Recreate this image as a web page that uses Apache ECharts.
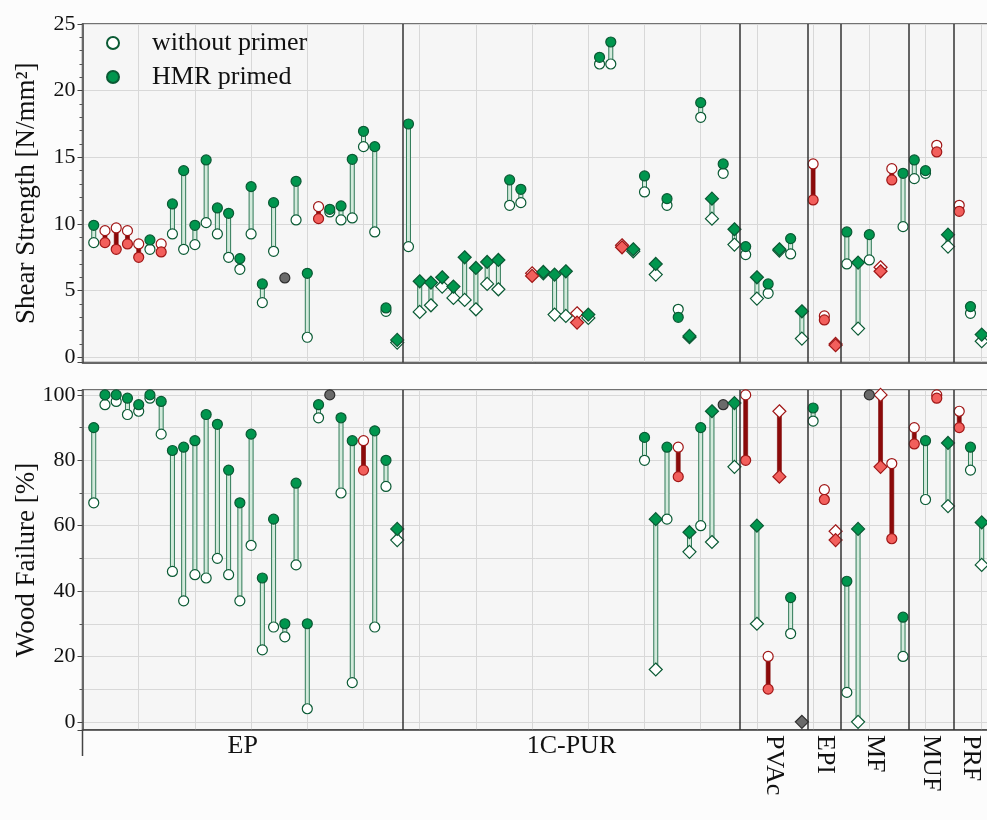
<!DOCTYPE html>
<html><head><meta charset="utf-8">
<script src="https://cdn.jsdelivr.net/npm/echarts@6/dist/echarts.min.js"></script>
<style>html,body{margin:0;padding:0;background:#fcfcfc}#c{width:987px;height:820px}</style>
</head><body><div id="c"></div>
<script>
// ---------- data ----------
const groupNames = ['EP','1C-PUR','PVAc','EPI','MF','MUF','PRF'];
const groupSizes = [28,30,6,3,6,4,3];
// c = circle, d = diamond (per specimen position 1..80)
const shapes = ['c','c','c','c','c','c','c','c','c','c','c','c','c','c','c','c','c','c','c','c','c','c','c','c','c','c','c','d',
  'c','d','d','d','d','d','d','d','d','c','c','d','d','d','d','d','d','c','c','d','d','c','d','c','c','d','c','d','c','d',
  'c','d','c','d','c','d',
  'c','c','d',
  'c','d','c','d','c','c',
  'c','c','c','d',
  'c','c','d'];
const ssTicks = [0,5,10,15,20,25];
const wfTicks = [0,20,40,60,80,100];
// Shear strength [N/mm²]
const ssWithout = [8.6,9.5,9.7,9.5,8.5,8.1,8.5,9.25,8.1,8.45, 10.1,9.25,7.5,6.6,9.25,4.1,7.95,5.95,10.3,1.5,
  11.3,10.9,10.3,10.45,15.8,9.4,3.45,1.1,8.3,3.4, 3.9,5.3,4.45,4.3,3.6,5.5,5.1,11.4,11.6,6.3,
  6.3,3.2,3.1,3.3,2.95,22.0,22.0,8.4,7.95,12.4, 6.2,11.4,3.6,1.5,18.0,10.4,13.8,8.45,7.7,4.4,
  4.8,8.0,7.75,1.4,14.5,3.1,1.0,7.0,2.15,7.3, 6.75,14.15,9.8,13.4,13.8,15.9,8.3,11.4,3.3,1.2];
const ssPrimed = [9.9,8.6,8.1,8.5,7.5,8.8,7.9,11.5,14.0,9.9, 14.8,11.2,10.8,7.4,12.8,5.5,11.6,5.95,13.2,6.3,
  10.4,11.1,11.35,14.85,16.95,15.8,3.7,1.3,17.5,5.7, 5.6,6.0,5.3,7.5,6.7,7.15,7.3,13.3,12.6,6.1,
  6.4,6.2,6.45,2.6,3.2,22.5,23.65,8.25,8.1,13.6, 7.0,11.9,3.0,1.6,19.1,11.9,14.5,9.6,8.3,6.0,
  5.5,8.1,8.9,3.45,11.8,2.8,0.9,9.4,7.1,9.2, 6.45,13.3,13.8,14.8,14.0,15.4,9.2,10.95,3.8,1.7];
// effect of priming: 1 = increase, -1 = decrease, 0 = no difference
const ssEffect = [1,-1,-1,-1,-1,1,-1,1,1,1, 1,1,1,1,1,1,1,0,1,1, -1,1,1,1,1,1,1,1,1,1, 1,1,1,1,1,1,1,1,1,-1,
  1,1,1,-1,1,1,1,-1,1,1, 1,1,1,1,1,1,1,1,1,1, 1,1,1,1,-1,-1,-1,1,1,1, -1,-1,1,1,1,-1,1,-1,1,1];
// Wood failure [%]
const N = null;
const wfWithout = [67,97,98,94,95,99,88,46,37,45, 44,50,45,37,54,22,29,26,48,4, 93,100,70,12,86,29,72,55.6,N,N,
  N,N,N,N,N,N,N,N,N,N, N,N,N,N,N,N,N,N,N,80, 16,62,84,52,60,55,97,78,100,30,
  20,95,27,0,92,71,58.3,9,0,100, 100,79,20,90,68,100,66,95,77,48];
const wfPrimed = [90,100,100,99,97,100,98,83,84,86, 94,91,77,67,88,44,62,30,73,30, 97,100,93,86,77,89,80,59,N,N,
  N,N,N,N,N,N,N,N,N,N, N,N,N,N,N,N,N,N,N,87, 62,84,75,58,90,95,97,97.5,80,60,
  10,75,38,0,96,68,55.6,43,59,100, 78,56,32,85,86,99,85.3,90,84,61];
const wfEffect = [1,1,1,1,1,1,1,1,1,1, 1,1,1,1,1,1,1,1,1,1, 1,0,1,1,-1,1,1,1,N,N,
  N,N,N,N,N,N,N,N,N,N, N,N,N,N,N,N,N,N,N,1, 1,1,-1,1,1,1,0,1,-1,1,
  -1,-1,1,0,1,-1,-1,1,1,0, -1,-1,1,-1,1,-1,1,-1,1,1];

// ---------- style ----------
const SERIF = '"Liberation Serif","Times New Roman",serif';
const GREEN='#00964e', GREEN_D='#0a5a34', RED='#f25f5c', RED_D='#a01616', GRAY='#6a6a6a', GRAY_D='#2e2e2e';
const SYM = {c:'circle', d:'diamond'};
const SIZE = {c:10, d:13};
const TXT = '#111';

const chart = echarts.init(document.getElementById('c'), null, {renderer:'canvas'});

let cum = 0; const dividers = [];
groupSizes.forEach((n,i)=>{ cum += n; if (i < groupSizes.length-1) dividers.push(cum + 0.5); });

function panelSeries(p, wo, pr, eff){
  const stems=[], open=[], filled=[];
  for (let i=0;i<wo.length;i++){
    if (wo[i]==null) continue;
    const k=i+1, e=eff[i], s=shapes[i], sym=SYM[s], sz=SIZE[s];
    if (e===0){
      filled.push({value:[k,pr[i]], symbol:sym, symbolSize:sz, itemStyle:{color:GRAY, borderColor:GRAY_D}});
      continue;
    }
    stems.push([k, wo[i], pr[i], e]);
    open.push({value:[k,wo[i]], symbol:sym, symbolSize:sz, itemStyle:{color:'#fff', borderColor:e<0?RED_D:GREEN_D}});
    filled.push({value:[k,pr[i]], symbol:sym, symbolSize:sz, itemStyle:{color:e<0?RED:GREEN, borderColor:e<0?RED_D:GREEN_D}});
  }
  return [
    {type:'custom', xAxisIndex:p, yAxisIndex:p, data:stems, silent:true, z:2, animation:false,
      encode:{x:0, y:[1,2]},
      renderItem:(params, api)=>{
        const a = api.coord([api.value(0), api.value(1)]);
        const b = api.coord([api.value(0), api.value(2)]);
        const e = api.value(3);
        const w = 4;
        const y = Math.min(a[1],b[1]), h = Math.abs(a[1]-b[1]);
        return {type:'rect', shape:{x:a[0]-w/2, y:y, width:w, height:h},
          style: e<0 ? {fill:'#8c0a0a', stroke:'#7a0000', lineWidth:0.6}
                     : {fill:'#d3eadc', stroke:'#2f7a57', lineWidth:1}};
      }},
    {type:'scatter', name:'without primer', xAxisIndex:p, yAxisIndex:p, data:open, z:3, animation:false,
      itemStyle:{color:'#fff', borderColor:GREEN_D, borderWidth:1.2, opacity:1}},
    {type:'scatter', name:'HMR primed', xAxisIndex:p, yAxisIndex:p, data:filled, z:4, animation:false,
      itemStyle:{color:GREEN, borderColor:GREEN_D, borderWidth:1.2, opacity:1},
      markLine:{silent:true, symbol:'none', animation:false, label:{show:false},
        lineStyle:{color:'#333', width:1.5, type:'solid'},
        data: dividers.map(v=>({xAxis:v}))}}
  ];
}

const gridBase = {left:82.5, width:921.7, show:true, containLabel:false, outerBoundsMode:'none',
  backgroundColor:'#f6f6f6', borderColor:'#444', borderWidth:1.5};
const xBase = (p)=>({gridIndex:p, type:'value', min:0, max:82, interval:5,
  axisLabel:{show:false}, axisTick:{show:false},
  axisLine:{show:true, onZero:false, lineStyle:{color:'#444', width:1.5}},
  splitLine:{show:true, lineStyle:{color:'#d8d8d8', width:1}}});
const isTick = (ticks, v)=>ticks.some(t=>Math.abs(t-v)<1e-6);

const option = {
  backgroundColor:'#fcfcfc',
  animation:false,
  grid:[
    Object.assign({}, gridBase, {top:24, height:338.6}),
    Object.assign({}, gridBase, {top:390, height:340})
  ],
  xAxis:[xBase(0), xBase(1)],
  yAxis:[
    {gridIndex:0, type:'value', min:-0.4, max:25, splitNumber:5,
      name:'Shear Strength [N/mm²]', nameLocation:'middle', nameGap:42, nameMoveOverlap:false,
      nameTextStyle:{fontFamily:SERIF, fontSize:27, color:TXT},
      axisLine:{show:true, onZero:false, lineStyle:{color:'#444', width:1.5}},
      axisTick:{show:true, length:5, lineStyle:{color:'#444'}},
      minorTick:{show:true, splitNumber:5, length:3, lineStyle:{color:'#555'}},
      splitLine:{show:true, lineStyle:{color:'#d8d8d8'}},
      axisLabel:{fontFamily:SERIF, fontSize:22, color:TXT, margin:7,
        formatter:v=>isTick(ssTicks,v)?String(Math.round(v)):''}},
    {gridIndex:1, type:'value', min:-2.5, max:101.5, splitNumber:5,
      name:'Wood Failure [%]', nameLocation:'middle', nameGap:42, nameMoveOverlap:false,
      nameTextStyle:{fontFamily:SERIF, fontSize:27, color:TXT},
      axisLine:{show:true, onZero:false, lineStyle:{color:'#444', width:1.5}},
      axisTick:{show:true, length:5, lineStyle:{color:'#444'}},
      minorTick:{show:true, splitNumber:2, length:3, lineStyle:{color:'#555'}},
      splitLine:{show:true, lineStyle:{color:'#d8d8d8'}},
      minorSplitLine:{show:true, lineStyle:{color:'#d8d8d8'}},
      axisLabel:{fontFamily:SERIF, fontSize:22, color:TXT, margin:7,
        formatter:v=>isTick(wfTicks,v)?String(Math.round(v)):''}}
  ],
  legend:{orient:'vertical', left:101, top:25, itemWidth:12, itemHeight:12, itemGap:8, selectedMode:false,
    data:[{name:'without primer', icon:'circle'},{name:'HMR primed', icon:'circle'}],
    textStyle:{fontFamily:SERIF, fontSize:26, color:TXT, padding:[0,0,0,28]}},
  series:[].concat(panelSeries(0, ssWithout, ssPrimed, ssEffect), panelSeries(1, wfWithout, wfPrimed, wfEffect))
};
chart.setOption(option);

// group labels under the lower panel
const gfx = [];
let c2 = 0;
groupSizes.forEach((n,i)=>{
  const lo = i===0 ? 0 : c2 + 0.5;
  c2 += n;
  const hi = c2 + 0.5;
  const x = chart.convertToPixel({xAxisIndex:1}, (lo+hi)/2);
  const rot = n < 10;
  gfx.push({type:'text', x:x, y: rot ? 735 : 733, rotation: rot ? -Math.PI/2 : 0, silent:true,
    style:{text:groupNames[i], font:'26px '+SERIF, fill:TXT,
      textAlign: rot ? 'left' : 'center', textVerticalAlign: rot ? 'middle' : 'top'}});
});
gfx.push({type:'line', shape:{x1:82.5, y1:730, x2:82.5, y2:756}, style:{stroke:'#444', lineWidth:1.5}, silent:true});
chart.setOption({graphic:gfx});
</script>
</body></html>
